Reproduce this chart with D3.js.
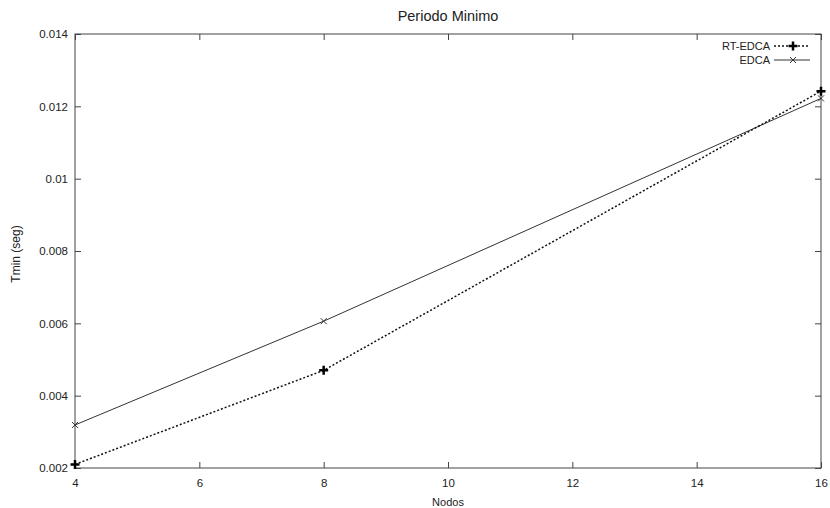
<!DOCTYPE html>
<html>
<head>
<meta charset="utf-8">
<script src="https://cdn.jsdelivr.net/npm/d3@7"></script>
<style>
  body { margin: 0; background: white; }
  text { font-family: "Liberation Sans", Arial, sans-serif; fill: #222; }
</style>
</head>
<body>
<div id="chart"></div>
<script>
const nodos = [4, 8, 16];
const rtEdca = [0.0021, 0.0047, 0.01242];
const edca = [0.00319, 0.00606, 0.01222];
const xTicks = [4, 6, 8, 10, 12, 14, 16];
const yTicks = [0.002, 0.004, 0.006, 0.008, 0.01, 0.012, 0.014];

const W = 830, H = 508;
const margin = { top: 34, right: 9, bottom: 40, left: 75 };
const width = W - margin.left - margin.right;
const height = H - margin.top - margin.bottom;

const svg = d3.select("#chart")
    .append("svg")
    .attr("width", W)
    .attr("height", H)
    .append("g")
    .attr("transform", `translate(${margin.left}, ${margin.top})`);

const x = d3.scaleLinear().domain([4, 16]).range([0, width]);
const y = d3.scaleLinear().domain([0.002, 0.014]).range([height, 0]);

const tickLen = 6;
const fmtY = d => d3.format("")(+d.toFixed(3));

// axes, gnuplot-style ticks inward and mirrored
svg.append("g")
    .attr("transform", `translate(0, ${height})`)
    .call(d3.axisBottom(x).tickValues(xTicks).tickSize(-tickLen).tickPadding(11))
    .call(g => g.select(".domain").remove());
svg.append("g")
    .call(d3.axisTop(x).tickValues(xTicks).tickSize(-tickLen).tickFormat(""))
    .call(g => g.select(".domain").remove());
svg.append("g")
    .call(d3.axisLeft(y).tickValues(yTicks).tickSize(-tickLen).tickPadding(7).tickFormat(fmtY))
    .call(g => g.select(".domain").remove());
svg.append("g")
    .attr("transform", `translate(${width}, 0)`)
    .call(d3.axisRight(y).tickValues(yTicks).tickSize(-tickLen).tickFormat(""))
    .call(g => g.select(".domain").remove());

svg.selectAll(".tick line").attr("stroke", "#444");
svg.selectAll(".tick text")
    .style("font-size", "11.5px")
    .style("font-family", "'Liberation Sans', Arial, sans-serif")
    .attr("fill", "#222");

svg.append("rect")
    .attr("width", width)
    .attr("height", height)
    .attr("fill", "none")
    .attr("stroke", "#444")
    .attr("stroke-width", 1);

const rtData = nodos.map((n, i) => ({ n, v: rtEdca[i] }));
const edData = nodos.map((n, i) => ({ n, v: edca[i] }));

const line = d3.line().x(d => x(d.n)).y(d => y(d.v));

svg.append("path")
    .datum(edData)
    .attr("fill", "none")
    .attr("stroke", "#333")
    .attr("stroke-width", 1)
    .attr("d", line);

svg.append("path")
    .datum(rtData)
    .attr("fill", "none")
    .attr("stroke", "#111")
    .attr("stroke-width", 1.5)
    .attr("stroke-dasharray", "2,2")
    .attr("d", line);

const plusPath = s => `M${-s},0H${s}M0,${-s}V${s}`;
const crossPath = s => `M${-s},${-s}L${s},${s}M${-s},${s}L${s},${-s}`;

svg.selectAll(".pt-rt")
    .data(rtData)
    .enter()
    .append("path")
    .attr("class", "pt-rt")
    .attr("transform", d => `translate(${x(d.n)}, ${y(d.v)})`)
    .attr("d", plusPath(4.5))
    .attr("stroke", "#000")
    .attr("stroke-width", 2.5);

svg.selectAll(".pt-ed")
    .data(edData)
    .enter()
    .append("path")
    .attr("class", "pt-ed")
    .attr("transform", d => `translate(${x(d.n)}, ${y(d.v)})`)
    .attr("d", crossPath(3))
    .attr("stroke", "#333")
    .attr("stroke-width", 1);

// titles
svg.append("text")
    .attr("x", width / 2)
    .attr("y", -13)
    .attr("text-anchor", "middle")
    .style("font-size", "14.5px")
    .text("Periodo Minimo");

svg.append("text")
    .attr("x", width / 2)
    .attr("y", height + 38)
    .attr("text-anchor", "middle")
    .style("font-size", "11px")
    .text("Nodos");

svg.append("text")
    .attr("transform", "rotate(-90)")
    .attr("x", -height / 2 - 3)
    .attr("y", -55)
    .attr("text-anchor", "middle")
    .style("font-size", "12px")
    .text("Tmin (seg)");

// legend
const legend = svg.append("g")
    .attr("transform", `translate(${width - 47}, 12)`);

legend.append("text")
    .attr("x", -4)
    .attr("y", 4)
    .attr("text-anchor", "end")
    .style("font-size", "11px")
    .text("RT-EDCA");
legend.append("line")
    .attr("x1", 0).attr("x2", 36).attr("y1", 0).attr("y2", 0)
    .attr("stroke", "#111").attr("stroke-width", 1.5).attr("stroke-dasharray", "2,2");
legend.append("path")
    .attr("transform", "translate(19, 0)")
    .attr("d", plusPath(4.5))
    .attr("stroke", "#000").attr("stroke-width", 2.5);

legend.append("text")
    .attr("x", -4)
    .attr("y", 18)
    .attr("text-anchor", "end")
    .style("font-size", "11px")
    .text("EDCA");
legend.append("line")
    .attr("x1", 0).attr("x2", 36).attr("y1", 14).attr("y2", 14)
    .attr("stroke", "#333").attr("stroke-width", 1);
legend.append("path")
    .attr("transform", "translate(19, 14)")
    .attr("d", crossPath(3))
    .attr("stroke", "#333").attr("stroke-width", 1);
</script>
</body>
</html>
